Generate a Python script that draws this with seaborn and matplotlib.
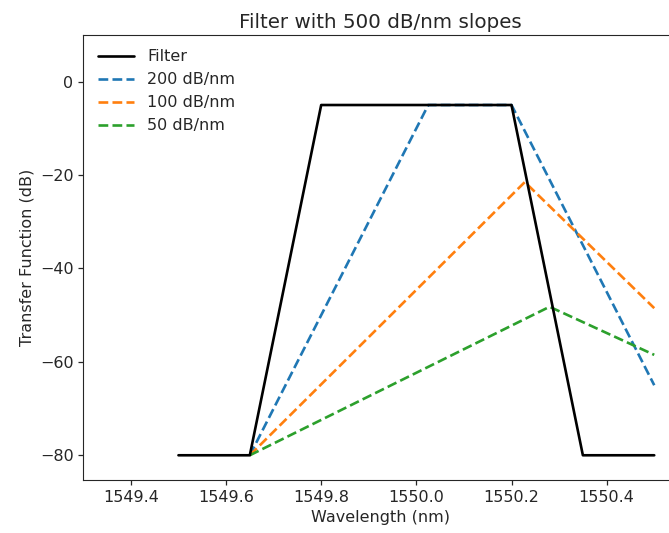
import matplotlib
matplotlib.use("Agg")
import matplotlib.pyplot as plt
import seaborn as sns
import pandas as pd

# Data
filter_x = [1549.5, 1549.65, 1549.8, 1550.2, 1550.35, 1550.5]
filter_y = [-80, -80, -5, -5, -80, -80]

s200_x = [1549.65, 1550.025, 1550.2, 1550.5]
s200_y = [-80, -5, -5, -65]

s100_x = [1549.65, 1550.228, 1550.5]
s100_y = [-80, -21.5, -48.5]

s50_x = [1549.65, 1550.28, 1550.5]
s50_y = [-80, -48.2, -58.5]

series = [
    ("Filter", filter_x, filter_y, "black", "-", 5),
    ("200 dB/nm", s200_x, s200_y, "#1f77b4", "--", 2),
    ("100 dB/nm", s100_x, s100_y, "#ff7f0e", "--", 2),
    ("50 dB/nm", s50_x, s50_y, "#2ca02c", "--", 2),
]

sns.set_style("ticks")
plt.rcParams['font.family'] = ['DejaVu Sans']

fig = plt.figure(figsize=(6.69, 5.33), dpi=100)
ax = fig.add_axes([0.1245, 0.0994, 0.889, 0.835])

for name, xs, ys, color, ls, z in series:
    df = pd.DataFrame({"x": xs, "y": ys})
    sns.lineplot(data=df, x="x", y="y", ax=ax, sort=False, color=color,
                 linestyle=ls, linewidth=1.9, label=name, zorder=z)

ax.set_xlim(1549.30, 1550.55)
ax.set_ylim(-85.3, 10.0)
ax.set_xticks([1549.4, 1549.6, 1549.8, 1550.0, 1550.2, 1550.4])
ax.set_xticklabels(["1549.4", "1549.6", "1549.8", "1550.0", "1550.2", "1550.4"])
ax.set_yticks([0, -20, -40, -60, -80])
ax.tick_params(labelsize=11.5, length=3.5, width=0.9)
ax.set_xlabel("Wavelength (nm)", fontsize=11.5)
ax.set_ylabel("Transfer Function (dB)", fontsize=11.5)
ax.set_title("Filter with 500 dB/nm slopes", fontsize=14.3, pad=5)
ax.legend(loc="upper left", frameon=False, fontsize=11.5, handlelength=2.3)

fig.savefig("out.png", dpi=100)
